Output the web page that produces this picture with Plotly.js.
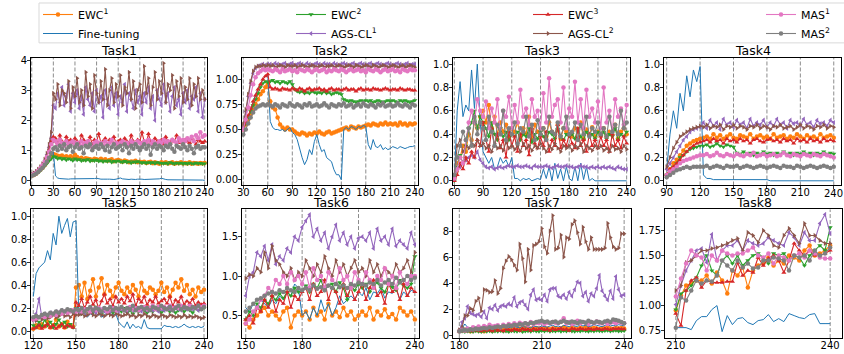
<!DOCTYPE html>
<html><head><meta charset="utf-8">
<script src="https://cdn.plot.ly/plotly-3.0.1.min.js"></script>
<style>html,body{margin:0;padding:0;background:#fff}#chart{width:844px;height:354px}</style>
</head><body><div id="chart"></div>
<script>
// ---------- series definitions ----------
const seriesNames = ['EWC<sup>1</sup>','Fine-tuning','EWC<sup>2</sup>','AGS-CL<sup>1</sup>','EWC<sup>3</sup>','AGS-CL<sup>2</sup>','MAS<sup>1</sup>','MAS<sup>2</sup>'];
const seriesColors = ['#ff7f0e','#1f77b4','#2ca02c','#9467bd','#d62728','#8c564b','#e377c2','#7f7f7f'];
const seriesSymbols = ['circle',null,'triangle-down','triangle-left','triangle-up','triangle-right','circle','circle'];
const seriesLegend = ['legend','legend','legend2','legend2','legend3','legend3','legend4','legend4'];
const taskTitles = ['Task1','Task2','Task3','Task4','Task5','Task6','Task7','Task8'];
const taskStart = [0,30,60,90,120,150,180,210];
const taskStep  = [3,3,3,3,2,2,1,1];
const taskEnd = 240;
const boundaryStep = 30;

// ---------- Task1 (x 0..240 step 3) ----------
const t1_EWC1 = [0.15,0.18,0.22,0.28,0.35,0.42,0.5,0.6,0.7,0.8,0.88,
0.85,0.82,0.8,0.83,0.78,0.8,0.76,0.8,0.75,0.85,
0.78,0.72,0.75,0.7,0.74,0.72,0.7,0.68,0.72,0.7,
0.68,0.72,0.66,0.7,0.65,0.68,0.7,0.64,0.66,0.68,
0.65,0.62,0.66,0.64,0.6,0.63,0.62,0.65,0.6,0.62,
0.6,0.62,0.58,0.6,0.62,0.57,0.6,0.58,0.55,0.6,
0.58,0.6,0.56,0.58,0.6,0.55,0.58,0.57,0.6,0.56,
0.58,0.56,0.6,0.55,0.58,0.57,0.55,0.58,0.56,0.58];
const t1_FT = [0.15,0.18,0.22,0.28,0.35,0.42,0.52,0.62,0.72,0.85,0.95,
0.15,0.08,0.06,0.05,0.05,0.05,0.04,0.05,0.05,0.06,
0.05,0.04,0.04,0.05,0.04,0.04,0.05,0.05,0.06,0.07,
0.05,0.04,0.04,0.03,0.04,0.04,0.03,0.03,0.04,0.06,
0.08,0.05,0.04,0.03,0.03,0.04,0.03,0.03,0.04,0.05,
0.04,0.03,0.03,0.04,0.03,0.03,0.04,0.04,0.05,0.07,
0.04,0.03,0.02,0.02,0.02,0.02,0.02,0.02,0.02,0.03,
0.02,0.02,0.01,0.01,0.01,0.01,0.01,0.01,0.01,0.0];
const t1_EWC2 = [0.15,0.18,0.22,0.27,0.33,0.4,0.48,0.56,0.65,0.72,0.8,
0.78,0.72,0.75,0.7,0.73,0.68,0.72,0.7,0.66,0.72,
0.68,0.7,0.65,0.68,0.66,0.7,0.64,0.67,0.65,0.68,
0.64,0.66,0.62,0.65,0.63,0.66,0.6,0.64,0.62,0.65,
0.62,0.6,0.64,0.6,0.62,0.58,0.62,0.6,0.63,0.6,
0.58,0.6,0.57,0.6,0.58,0.6,0.56,0.6,0.58,0.57,
0.56,0.58,0.55,0.6,0.57,0.55,0.58,0.56,0.58,0.55,
0.57,0.55,0.58,0.56,0.55,0.58,0.56,0.57,0.55,0.56];
const t1_AGS1 = [0.18,0.22,0.27,0.34,0.42,0.52,0.65,0.85,1.1,1.4,2.5,
2.4,2.9,2.6,3.1,2.5,2.8,3.2,2.3,2.9,2.6,
3.0,2.4,2.8,2.2,3.1,2.7,2.5,2.9,2.3,3.0,
2.6,2.8,2.1,3.0,2.7,2.4,3.1,2.5,2.9,2.2,
2.8,2.6,3.2,2.3,2.9,2.7,2.4,3.0,2.6,2.8,
2.2,2.9,2.6,3.1,2.4,2.8,2.0,3.0,2.7,2.5,
3.2,2.6,2.9,2.3,2.8,3.1,2.5,2.7,2.2,2.9,
2.6,3.0,2.4,2.8,2.7,3.1,2.3,2.9,2.1,2.7];
const t1_EWC3 = [0.18,0.22,0.27,0.33,0.4,0.5,0.62,0.8,1.0,1.3,1.45,
1.4,1.25,1.5,1.3,1.2,1.45,1.3,1.35,1.25,1.4,
1.3,1.2,1.5,1.35,1.25,1.3,1.45,1.2,1.35,1.3,
1.55,1.25,1.3,1.4,1.2,1.35,1.3,1.45,1.25,1.3,
1.35,1.2,1.4,1.3,1.25,1.5,1.3,1.2,1.35,1.3,
1.6,1.3,1.25,1.55,1.3,1.2,1.4,1.3,1.25,1.35,
1.2,1.45,1.3,1.25,1.35,1.3,1.5,1.25,1.3,1.2,
1.35,1.3,1.25,1.4,1.3,1.2,1.35,1.3,1.25,1.3];
const t1_AGS2 = [0.2,0.25,0.3,0.37,0.45,0.55,0.7,0.9,1.2,1.6,2.9,
2.7,3.2,2.5,3.0,2.9,2.6,3.3,2.4,3.1,2.8,
3.4,2.6,3.0,2.5,3.6,2.8,3.2,2.4,3.5,2.9,
2.6,3.3,2.7,3.7,2.5,3.0,3.4,2.6,3.2,2.8,
3.5,2.5,3.1,2.9,3.6,2.7,3.3,2.4,3.0,3.2,
2.6,3.8,2.9,3.4,2.5,3.1,3.6,2.7,3.3,2.9,
3.9,2.6,3.2,3.0,3.5,2.4,3.3,2.8,3.4,2.6,
3.1,2.7,3.4,2.5,3.2,2.8,3.4,2.7,3.0,2.7];
const t1_MAS1 = [0.17,0.2,0.25,0.32,0.4,0.5,0.62,0.78,0.95,1.2,1.35,
1.3,1.2,1.35,1.25,1.15,1.3,1.2,1.25,1.3,1.2,
1.25,1.15,1.3,1.2,1.25,1.3,1.2,1.1,1.25,1.3,
1.2,1.25,1.15,1.3,1.2,1.25,1.35,1.2,1.25,1.15,
1.25,1.3,1.2,1.25,1.15,1.3,1.25,1.2,1.3,1.25,
1.2,1.3,1.25,1.35,1.2,1.3,1.25,1.2,1.3,1.25,
1.35,1.25,1.3,1.2,1.35,1.3,1.25,1.4,1.3,1.35,
1.3,1.4,1.35,1.45,1.3,1.5,1.4,1.6,1.45,1.5];
const t1_MAS2 = [0.15,0.18,0.22,0.28,0.35,0.42,0.52,0.62,0.75,0.9,1.05,
1.1,1.0,1.15,1.05,1.2,1.0,1.1,1.15,0.95,1.1,
1.2,1.05,1.1,0.9,1.15,1.1,1.2,1.0,1.1,1.15,
1.05,1.2,1.1,1.0,1.15,0.95,1.1,1.2,1.05,1.1,
1.15,1.0,1.2,1.1,0.9,1.15,1.05,1.2,1.1,1.0,
1.1,1.2,1.05,1.15,0.85,1.1,1.2,1.05,1.15,1.1,
1.0,1.15,1.1,1.2,1.05,0.95,1.15,1.1,1.05,1.2,
1.1,1.0,1.15,1.05,0.9,1.1,1.15,1.05,1.1,1.1];

// ---------- Task2 (x 30..240 step 3) ----------
const t2_EWC1 = [0.5,0.55,0.6,0.65,0.7,0.75,0.8,0.85,0.88,0.92,0.95,
0.78,0.72,0.7,0.62,0.55,0.52,0.5,0.52,0.5,0.5,
0.48,0.46,0.45,0.47,0.46,0.44,0.46,0.45,0.47,0.46,
0.48,0.46,0.45,0.47,0.48,0.46,0.47,0.48,0.49,0.5,
0.51,0.52,0.5,0.53,0.52,0.51,0.53,0.52,0.53,0.54,
0.55,0.54,0.56,0.55,0.54,0.56,0.55,0.57,0.55,0.56,
0.55,0.56,0.54,0.57,0.55,0.56,0.54,0.56,0.55,0.56];
const t2_FT = [0.5,0.56,0.62,0.7,0.78,0.85,0.9,0.95,1.0,1.03,1.05,
0.58,0.52,0.5,0.5,0.49,0.5,0.48,0.5,0.52,0.47,
0.45,0.4,0.3,0.22,0.15,0.2,0.3,0.25,0.38,0.45,
0.35,0.28,0.3,0.22,0.2,0.18,0.1,0.05,0.05,0.0,
0.5,0.52,0.5,0.53,0.52,0.5,0.53,0.52,0.54,0.53,
0.35,0.3,0.4,0.33,0.32,0.35,0.3,0.32,0.3,0.31,
0.33,0.32,0.31,0.33,0.32,0.31,0.32,0.33,0.33,0.34];
const t2_EWC2 = [0.5,0.56,0.62,0.68,0.74,0.8,0.86,0.92,0.96,0.98,0.97,
0.98,0.99,0.97,0.98,0.96,0.98,0.97,0.96,0.98,0.95,
0.9,0.88,0.87,0.88,0.86,0.87,0.86,0.88,0.87,0.86,
0.87,0.86,0.88,0.86,0.87,0.85,0.86,0.87,0.86,0.85,
0.8,0.79,0.78,0.79,0.78,0.77,0.78,0.79,0.78,0.79,
0.78,0.79,0.77,0.78,0.79,0.78,0.77,0.78,0.79,0.78,
0.79,0.78,0.77,0.79,0.78,0.79,0.78,0.77,0.78,0.79];
const t2_AGS1 = [0.52,0.68,0.83,0.96,1.06,1.11,1.13,1.14,1.15,1.14,1.15,
1.15,1.14,1.16,1.15,1.14,1.15,1.16,1.14,1.15,1.16,
1.14,1.15,1.16,1.15,1.14,1.16,1.15,1.14,1.15,1.16,
1.15,1.14,1.16,1.15,1.15,1.14,1.16,1.15,1.14,1.15,
1.16,1.15,1.14,1.15,1.16,1.14,1.15,1.16,1.15,1.14,
1.15,1.16,1.14,1.15,1.16,1.15,1.14,1.15,1.16,1.15,
1.14,1.15,1.16,1.15,1.14,1.15,1.16,1.14,1.15,1.15];
const t2_EWC3 = [0.5,0.57,0.64,0.71,0.78,0.84,0.9,0.95,1.0,1.03,1.05,
0.92,0.9,0.91,0.9,0.89,0.91,0.9,0.9,0.89,0.91,
0.9,0.89,0.91,0.9,0.88,0.9,0.91,0.89,0.9,0.9,
0.91,0.89,0.9,0.88,0.9,0.91,0.89,0.9,0.9,0.89,
0.9,0.91,0.89,0.9,0.9,0.88,0.9,0.91,0.89,0.9,
0.9,0.89,0.91,0.9,0.9,0.89,0.9,0.91,0.9,0.89,
0.9,0.9,0.89,0.91,0.9,0.89,0.9,0.9,0.89,0.89];
const t2_AGS2 = [0.55,0.7,0.85,0.98,1.08,1.12,1.13,1.13,1.14,1.13,1.14,
1.13,1.14,1.12,1.13,1.14,1.13,1.12,1.14,1.13,1.13,
1.14,1.12,1.13,1.14,1.13,1.12,1.13,1.14,1.13,1.12,
1.13,1.14,1.12,1.13,1.13,1.14,1.12,1.13,1.14,1.13,
1.12,1.13,1.14,1.13,1.12,1.14,1.13,1.12,1.13,1.14,
1.13,1.12,1.14,1.13,1.12,1.13,1.14,1.13,1.12,1.13,
1.14,1.13,1.12,1.13,1.14,1.12,1.13,1.14,1.13,1.12];
const t2_MAS1 = [0.5,0.6,0.72,0.84,0.95,1.02,1.06,1.08,1.1,1.09,1.1,
1.09,1.08,1.1,1.09,1.07,1.1,1.08,1.09,1.1,1.08,
1.09,1.07,1.1,1.09,1.08,1.1,1.09,1.07,1.09,1.1,
1.08,1.09,1.1,1.07,1.09,1.08,1.1,1.09,1.08,1.1,
1.09,1.07,1.09,1.1,1.08,1.09,1.1,1.08,1.09,1.07,
1.1,1.09,1.08,1.1,1.09,1.07,1.09,1.1,1.08,1.09,
1.1,1.08,1.09,1.07,1.1,1.09,1.08,1.1,1.09,1.09];
const t2_MAS2 = [0.45,0.5,0.56,0.62,0.67,0.71,0.73,0.74,0.75,0.74,0.75,
0.74,0.73,0.75,0.74,0.72,0.75,0.74,0.73,0.76,0.74,
0.73,0.75,0.74,0.72,0.75,0.74,0.76,0.73,0.74,0.75,
0.73,0.74,0.76,0.74,0.72,0.75,0.74,0.73,0.75,0.74,
0.76,0.73,0.74,0.75,0.72,0.74,0.75,0.73,0.76,0.74,
0.73,0.75,0.74,0.72,0.75,0.74,0.76,0.73,0.74,0.75,
0.73,0.74,0.76,0.74,0.73,0.75,0.74,0.72,0.75,0.74];

// ---------- Task3 (x 60..240 step 3) ----------
const t3_EWC1 = [0.02,0.15,0.2,0.3,0.25,0.4,0.35,0.5,0.45,0.55,0.6,
0.5,0.65,0.45,0.55,0.4,0.5,0.42,0.48,0.38,0.45,
0.42,0.5,0.38,0.45,0.4,0.55,0.35,0.48,0.42,0.4,
0.45,0.38,0.5,0.42,0.4,0.48,0.36,0.45,0.42,0.4,
0.38,0.45,0.42,0.5,0.36,0.44,0.4,0.46,0.38,0.42,
0.4,0.45,0.38,0.42,0.4,0.48,0.36,0.42,0.45,0.4];
const t3_FT = [0.0,0.6,0.85,0.55,0.65,0.6,0.95,0.62,1.0,0.5,0.25,
0.2,0.15,0.2,0.1,0.12,0.2,0.15,0.18,0.12,0.2,
0.02,0.02,0.0,0.02,0.01,0.02,0.0,0.01,0.02,0.01,
0.1,0.02,0.12,0.0,0.15,0.02,0.1,0.0,0.12,0.02,
0.0,0.12,0.0,0.15,0.01,0.12,0.0,0.02,0.0,0.0,
0.0,0.0,0.0,0.0,0.0,0.0,0.0,0.0,0.0,0.0];
const t3_EWC2 = [0.0,0.12,0.22,0.15,0.3,0.45,0.5,0.6,0.45,0.55,0.5,
0.45,0.38,0.5,0.4,0.35,0.45,0.38,0.42,0.35,0.4,
0.38,0.42,0.35,0.4,0.38,0.45,0.33,0.4,0.36,0.42,
0.38,0.35,0.42,0.4,0.36,0.44,0.38,0.35,0.4,0.38,
0.4,0.36,0.45,0.38,0.35,0.42,0.38,0.4,0.36,0.42,
0.38,0.42,0.36,0.4,0.38,0.45,0.35,0.4,0.38,0.42];
const t3_AGS1 = [0.05,0.1,0.12,0.15,0.18,0.2,0.22,0.2,0.25,0.18,0.15,
0.12,0.11,0.12,0.1,0.11,0.12,0.11,0.12,0.13,0.12,
0.12,0.13,0.12,0.12,0.13,0.12,0.11,0.13,0.12,0.12,
0.12,0.13,0.12,0.11,0.12,0.13,0.12,0.12,0.13,0.12,
0.12,0.11,0.12,0.13,0.12,0.12,0.11,0.12,0.11,0.12,
0.11,0.12,0.11,0.12,0.11,0.1,0.12,0.11,0.1,0.1];
const t3_EWC3 = [0.0,0.05,0.15,0.1,0.2,0.15,0.25,0.2,0.35,0.3,0.5,
0.35,0.25,0.45,0.3,0.4,0.28,0.35,0.2,0.42,0.3,
0.38,0.25,0.4,0.3,0.35,0.22,0.45,0.32,0.28,0.38,
0.3,0.42,0.25,0.35,0.3,0.48,0.28,0.35,0.3,0.4,
0.32,0.28,0.45,0.3,0.35,0.25,0.4,0.3,0.35,0.28,
0.38,0.3,0.35,0.25,0.4,0.3,0.35,0.28,0.38,0.32];
const t3_AGS2 = [0.05,0.3,0.35,0.25,0.3,0.28,0.32,0.3,0.35,0.3,0.32,
0.28,0.3,0.25,0.32,0.28,0.3,0.26,0.33,0.28,0.3,
0.27,0.3,0.25,0.32,0.28,0.3,0.26,0.3,0.28,0.32,
0.28,0.25,0.3,0.27,0.32,0.28,0.25,0.3,0.28,0.3,
0.26,0.3,0.28,0.32,0.25,0.3,0.28,0.26,0.3,0.28,
0.3,0.26,0.28,0.25,0.3,0.27,0.28,0.25,0.3,0.27];
const t3_MAS1 = [0.02,0.1,0.2,0.15,0.35,0.5,0.6,0.5,0.7,0.6,0.55,
0.68,0.45,0.62,0.5,0.7,0.4,0.6,0.55,0.72,0.45,
0.65,0.5,0.78,0.55,0.62,0.48,0.7,0.55,0.6,0.45,
0.75,0.5,0.88,0.55,0.65,0.7,0.5,0.8,0.45,0.62,
0.55,0.85,0.5,0.7,0.45,0.78,0.55,0.62,0.5,0.68,
0.45,0.8,0.5,0.6,0.42,0.7,0.55,0.62,0.48,0.65];
const t3_MAS2 = [0.05,0.2,0.3,0.42,0.35,0.45,0.3,0.55,0.4,0.5,0.45,
0.35,0.55,0.42,0.3,0.48,0.4,0.6,0.35,0.45,0.4,
0.5,0.32,0.45,0.42,0.55,0.38,0.48,0.35,0.52,0.4,
0.45,0.35,0.55,0.42,0.4,0.5,0.38,0.45,0.55,0.4,
0.42,0.5,0.35,0.48,0.4,0.55,0.38,0.45,0.42,0.5,
0.4,0.45,0.38,0.55,0.42,0.48,0.4,0.6,0.45,0.5];

// ---------- Task4 (x 90..240 step 3) ----------
const t4_EWC1 = [0.05,0.1,0.15,0.18,0.22,0.26,0.3,0.32,0.34,0.35,0.36,
0.37,0.38,0.36,0.4,0.37,0.39,0.36,0.38,0.4,0.37,
0.36,0.39,0.38,0.37,0.4,0.36,0.38,0.39,0.37,0.38,
0.36,0.4,0.37,0.38,0.39,0.36,0.38,0.37,0.4,0.38,
0.36,0.39,0.37,0.38,0.36,0.4,0.37,0.38,0.39,0.37];
const t4_FT = [0.1,0.4,0.6,0.45,0.75,0.6,0.9,0.72,0.95,0.85,0.98,
0.05,0.02,0.02,0.01,0.01,0.01,0.01,0.01,0.01,0.01,
0.01,0.01,0.01,0.01,0.01,0.01,0.01,0.01,0.01,0.01,
0.0,0.0,0.0,0.0,0.0,0.0,0.0,0.0,0.0,0.0,
0.0,0.0,0.0,0.0,0.0,0.0,0.0,0.0,0.0,0.0];
const t4_EWC2 = [0.05,0.08,0.12,0.15,0.2,0.22,0.25,0.27,0.28,0.29,0.3,
0.3,0.31,0.29,0.3,0.32,0.3,0.29,0.31,0.3,0.29,
0.24,0.23,0.25,0.23,0.24,0.22,0.24,0.23,0.25,0.23,
0.24,0.22,0.24,0.23,0.25,0.23,0.24,0.22,0.24,0.23,
0.25,0.23,0.24,0.22,0.24,0.23,0.25,0.23,0.24,0.23];
const t4_AGS1 = [0.1,0.15,0.2,0.25,0.3,0.35,0.38,0.42,0.44,0.45,0.46,
0.5,0.45,0.52,0.47,0.5,0.44,0.53,0.48,0.5,0.46,
0.52,0.48,0.5,0.45,0.53,0.47,0.5,0.48,0.52,0.46,
0.5,0.47,0.53,0.48,0.5,0.45,0.52,0.49,0.5,0.47,
0.53,0.48,0.5,0.46,0.52,0.49,0.5,0.47,0.52,0.5];
const t4_EWC3 = [0.05,0.1,0.12,0.15,0.18,0.22,0.25,0.28,0.3,0.32,0.33,
0.34,0.35,0.33,0.36,0.34,0.35,0.32,0.36,0.34,0.35,
0.33,0.36,0.34,0.35,0.32,0.35,0.36,0.34,0.33,0.35,
0.36,0.34,0.35,0.33,0.36,0.34,0.35,0.32,0.36,0.34,
0.35,0.33,0.36,0.34,0.35,0.33,0.36,0.34,0.35,0.34];
const t4_AGS2 = [0.12,0.2,0.28,0.33,0.38,0.4,0.42,0.44,0.45,0.46,0.47,
0.46,0.48,0.45,0.47,0.46,0.48,0.44,0.47,0.46,0.48,
0.45,0.47,0.46,0.44,0.47,0.46,0.48,0.45,0.47,0.46,
0.44,0.47,0.46,0.48,0.45,0.46,0.47,0.44,0.46,0.48,
0.45,0.47,0.46,0.44,0.47,0.46,0.48,0.45,0.47,0.46];
const t4_MAS1 = [0.05,0.08,0.1,0.12,0.15,0.17,0.18,0.19,0.2,0.21,0.22,
0.22,0.23,0.21,0.22,0.24,0.22,0.21,0.23,0.22,0.21,
0.23,0.22,0.21,0.23,0.22,0.24,0.21,0.22,0.23,0.21,
0.22,0.23,0.21,0.22,0.24,0.22,0.21,0.23,0.22,0.21,
0.23,0.22,0.21,0.23,0.22,0.21,0.23,0.22,0.21,0.2];
const t4_MAS2 = [0.03,0.05,0.07,0.09,0.1,0.11,0.12,0.11,0.12,0.12,0.12,
0.12,0.13,0.11,0.12,0.13,0.12,0.11,0.13,0.12,0.12,
0.13,0.11,0.12,0.13,0.12,0.11,0.12,0.13,0.12,0.11,
0.12,0.13,0.12,0.11,0.13,0.12,0.12,0.11,0.13,0.12,
0.11,0.12,0.13,0.12,0.11,0.12,0.13,0.12,0.11,0.12];

// ---------- Task5 (x 120..240 step 2) ----------
const t5_EWC1 = [0.02,0.05,0.03,0.06,0.04,0.08,0.03,0.05,0.1,0.04,0.06,0.03,0.08,0.05,0.04,0.38,
0.4,0.3,0.42,0.28,0.35,0.45,0.3,0.38,0.46,0.32,0.4,0.35,0.3,0.38,0.42,
0.35,0.32,0.38,0.34,0.4,0.36,0.3,0.42,0.35,0.33,0.38,0.36,0.32,0.35,0.42,
0.34,0.38,0.3,0.36,0.42,0.38,0.45,0.35,0.4,0.32,0.36,0.3,0.38,0.34,0.36];
const t5_FT = [0.3,0.5,0.55,0.58,0.6,0.7,0.62,0.85,0.75,1.0,0.85,0.92,0.98,0.82,0.95,0.96,
0.15,0.14,0.16,0.12,0.15,0.14,0.13,0.15,0.12,0.14,0.16,0.15,0.14,0.15,0.08,
0.05,0.03,0.08,0.02,0.06,0.03,0.04,0.02,0.1,0.03,0.02,0.02,0.02,0.02,0.02,
0.05,0.04,0.04,0.03,0.04,0.03,0.04,0.06,0.04,0.03,0.04,0.03,0.04,0.03,0.04];
const t5_EWC2 = [0.05,0.03,0.08,0.04,0.1,0.05,0.08,0.03,0.06,0.1,0.05,0.08,0.04,0.06,0.03,0.2,
0.18,0.15,0.2,0.17,0.19,0.16,0.21,0.18,0.15,0.19,0.17,0.2,0.16,0.18,0.19,
0.17,0.2,0.16,0.18,0.15,0.19,0.17,0.2,0.18,0.16,0.19,0.17,0.21,0.18,0.16,
0.18,0.2,0.17,0.19,0.16,0.18,0.2,0.17,0.19,0.18,0.16,0.2,0.18,0.19,0.2];
const t5_AGS1 = [0.1,0.15,0.28,0.12,0.15,0.14,0.16,0.15,0.17,0.16,0.18,0.17,0.16,0.18,0.17,0.18,
0.17,0.18,0.16,0.19,0.17,0.18,0.16,0.18,0.19,0.17,0.18,0.17,0.19,0.18,0.17,
0.19,0.18,0.17,0.19,0.18,0.2,0.18,0.17,0.19,0.18,0.2,0.18,0.19,0.17,0.19,
0.18,0.2,0.19,0.18,0.2,0.19,0.18,0.2,0.19,0.2,0.19,0.2,0.18,0.2,0.21];
const t5_EWC3 = [0.02,0.03,0.05,0.02,0.04,0.06,0.03,0.05,0.02,0.04,0.06,0.03,0.05,0.04,0.03,0.25,
0.22,0.28,0.2,0.25,0.3,0.23,0.27,0.2,0.26,0.32,0.24,0.28,0.22,0.3,0.25,
0.28,0.24,0.3,0.26,0.32,0.22,0.28,0.25,0.3,0.23,0.27,0.25,0.3,0.24,0.26,
0.28,0.24,0.3,0.22,0.27,0.25,0.3,0.23,0.26,0.24,0.28,0.22,0.25,0.23,0.24];
const t5_AGS2 = [0.1,0.09,0.12,0.1,0.13,0.11,0.12,0.14,0.12,0.13,0.15,0.13,0.14,0.12,0.15,0.14,
0.14,0.15,0.13,0.14,0.16,0.14,0.13,0.15,0.14,0.13,0.15,0.14,0.13,0.15,0.14,
0.13,0.14,0.15,0.13,0.14,0.12,0.14,0.13,0.15,0.13,0.12,0.14,0.13,0.12,0.14,
0.13,0.12,0.14,0.13,0.12,0.13,0.12,0.14,0.12,0.13,0.12,0.13,0.12,0.11,0.12];
const t5_MAS1 = [0.1,0.11,0.12,0.13,0.12,0.14,0.13,0.15,0.14,0.16,0.15,0.17,0.16,0.17,0.18,0.17,
0.18,0.17,0.19,0.18,0.17,0.19,0.18,0.2,0.18,0.19,0.17,0.19,0.2,0.18,0.19,
0.2,0.18,0.19,0.21,0.19,0.2,0.18,0.2,0.21,0.19,0.2,0.22,0.19,0.21,0.2,
0.21,0.19,0.22,0.2,0.21,0.2,0.22,0.21,0.2,0.22,0.21,0.2,0.22,0.21,0.22];
const t5_MAS2 = [0.12,0.13,0.12,0.14,0.15,0.14,0.16,0.15,0.17,0.16,0.18,0.17,0.19,0.18,0.17,0.19,
0.18,0.2,0.17,0.19,0.21,0.18,0.2,0.19,0.17,0.2,0.19,0.21,0.18,0.2,0.19,
0.21,0.18,0.2,0.19,0.22,0.18,0.2,0.21,0.19,0.2,0.18,0.21,0.2,0.19,0.22,
0.2,0.19,0.21,0.18,0.2,0.22,0.19,0.21,0.2,0.19,0.21,0.2,0.22,0.19,0.21];

// ---------- Task6 (x 150..240 step 2) ----------
const t6_EWC1 = [0.4,0.35,0.45,0.5,0.55,0.6,0.5,0.55,0.5,0.45,0.55,0.6,0.35,0.5,0.55,0.5,
0.55,0.45,0.6,0.5,0.55,0.45,0.65,0.5,0.55,0.48,0.6,0.5,0.55,0.45,0.5,
0.55,0.5,0.6,0.45,0.55,0.5,0.58,0.48,0.52,0.45,0.6,0.55,0.5,0.55,0.45];
const t6_FT = [0.6,0.55,0.65,0.6,0.7,0.65,0.6,0.7,0.65,0.75,0.7,0.8,0.75,0.9,0.85,0.5,
0.55,0.45,0.6,0.5,0.7,0.55,0.65,0.5,0.6,0.75,0.65,0.7,0.75,0.7,0.8,
0.75,0.85,0.7,0.8,0.78,0.85,0.72,0.8,0.78,0.85,0.7,0.8,0.75,0.82,0.8];
const t6_EWC2 = [0.45,0.55,0.5,0.65,0.6,0.7,0.65,0.75,0.7,0.78,0.72,0.8,0.75,0.85,0.8,0.82,
0.88,0.8,0.9,0.85,0.95,0.82,0.88,0.9,0.8,0.92,0.85,0.7,0.88,0.82,0.9,
0.85,0.9,0.8,0.88,0.92,0.85,0.8,0.9,0.86,0.82,0.95,0.88,0.85,0.9,1.25];
const t6_AGS1 = [0.75,1.0,1.05,1.3,1.25,1.38,1.2,1.4,1.15,1.25,1.2,1.35,1.3,1.5,1.45,1.62,
1.7,1.78,1.5,1.6,1.45,1.55,1.35,1.5,1.65,1.45,1.55,1.4,1.5,1.35,1.48,
1.5,1.45,1.55,1.35,1.6,1.45,1.5,1.4,1.6,1.38,1.45,1.4,1.35,1.55,1.4];
const t6_EWC3 = [0.45,0.5,0.4,0.6,0.55,0.7,0.6,0.75,0.55,0.7,0.65,0.8,0.6,0.75,0.7,0.8,
0.85,0.7,0.9,0.75,0.8,0.95,0.7,0.85,0.8,0.65,0.9,0.75,0.85,0.7,0.8,
0.9,0.7,0.85,0.95,0.75,0.8,0.65,0.9,0.8,0.85,0.7,0.9,0.75,0.85,0.8];
const t6_AGS2 = [0.97,1.02,1.0,1.1,1.05,1.3,1.1,1.38,1.2,1.15,1.05,1.0,1.1,0.95,1.05,1.0,
1.2,1.1,1.0,1.15,1.05,1.25,1.1,1.0,1.2,1.05,1.15,1.0,1.1,1.2,1.05,
1.1,1.0,1.2,1.05,1.15,1.0,1.1,1.05,1.0,1.15,1.05,1.1,1.2,1.05,1.3];
const t6_MAS1 = [0.4,0.45,0.55,0.6,0.7,0.75,0.85,0.8,0.95,0.9,1.0,0.9,1.05,0.95,1.0,0.9,
1.05,0.85,1.1,0.95,1.0,0.85,1.05,0.95,0.9,1.1,0.95,1.0,0.85,1.05,0.95,
0.9,1.05,0.95,0.85,1.0,0.95,1.1,0.9,1.0,0.85,1.05,0.95,0.9,1.0,1.0];
const t6_MAS2 = [0.55,0.6,0.65,0.7,0.72,0.75,0.78,0.8,0.78,0.82,0.8,0.85,0.82,0.8,0.85,0.82,
0.85,0.82,0.88,0.84,0.86,0.82,0.88,0.85,0.9,0.86,0.88,0.85,0.9,0.88,0.92,
0.9,0.88,0.92,0.9,0.95,0.88,0.92,0.95,0.9,0.98,0.92,0.95,1.0,0.95,0.98];

// ---------- Task7 (x 180..240 step 1) ----------
const t7_EWC1 = [0.3,0.35,0.4,0.35,0.3,0.4,0.45,0.35,0.4,0.3,
0.45,0.4,0.35,0.45,0.4,0.5,0.4,0.45,0.35,0.5,
0.45,0.4,0.5,0.45,0.55,0.4,0.5,0.45,0.55,0.5,
0.45,0.55,0.5,0.45,0.5,0.55,0.45,0.5,0.6,0.5,
0.45,0.55,0.5,0.45,0.55,0.5,0.6,0.45,0.5,0.55,
0.5,0.45,0.55,0.5,0.6,0.5,0.45,0.55,0.5,0.55,0.5];
const t7_FT = [0.3,0.5,0.85,0.6,0.5,0.45,0.55,0.5,0.45,0.55,
0.5,0.6,0.55,0.5,0.6,0.55,0.65,0.5,0.6,0.55,
0.65,0.6,0.55,0.7,0.6,0.65,0.55,0.7,0.65,0.6,
0.7,0.65,0.6,0.7,0.75,0.65,0.7,0.6,0.75,0.7,
0.65,0.75,0.7,0.65,0.8,0.7,0.75,0.65,0.7,0.8,
0.75,0.7,0.65,0.75,0.8,0.7,0.75,0.7,0.8,0.75,0.7];
const t7_EWC2 = [0.25,0.3,0.25,0.3,0.28,0.25,0.32,0.28,0.25,0.3,
0.28,0.32,0.25,0.3,0.28,0.33,0.27,0.3,0.25,0.32,
0.3,0.28,0.33,0.25,0.3,0.32,0.28,0.35,0.3,0.28,
0.33,0.3,0.35,0.28,0.32,0.3,0.35,0.28,0.33,0.3,
0.35,0.3,0.28,0.33,0.3,0.35,0.32,0.28,0.33,0.3,
0.35,0.32,0.3,0.33,0.35,0.3,0.33,0.35,0.3,0.32,0.33];
const t7_AGS1 = [0.3,1.0,1.3,2.2,1.7,1.6,1.5,1.6,1.4,1.8,
1.3,2.1,2.0,2.3,1.9,2.2,2.3,2.2,2.4,2.3,
2.9,2.2,2.5,2.6,2.3,2.0,3.1,3.5,2.7,2.8,
2.7,3.1,2.6,3.5,3.6,3.6,3.0,2.9,3.1,2.8,
3.3,3.0,3.5,4.1,4.0,3.0,3.3,2.6,3.2,3.0,
3.6,4.6,3.4,3.0,2.7,3.4,2.8,4.5,3.5,3.0,3.1];
const t7_EWC3 = [0.3,0.35,0.3,0.4,0.35,0.3,0.4,0.35,0.3,0.4,
0.35,0.4,0.3,0.45,0.35,0.4,0.3,0.45,0.4,0.35,
0.45,0.4,0.35,0.5,0.4,0.45,0.35,0.5,0.4,0.45,
0.5,0.4,0.45,0.35,0.5,0.4,0.45,0.5,0.4,0.45,
0.35,0.5,0.45,0.4,0.5,0.45,0.4,0.5,0.45,0.4,
0.5,0.45,0.4,0.5,0.45,0.4,0.5,0.45,0.5,0.45,0.45];
const t7_AGS2 = [0.4,0.6,1.5,1.5,2.05,1.9,2.6,2.85,1.85,3.5,
3.45,3.3,3.35,4.2,3.2,3.6,5.15,5.7,6.05,5.8,
5.4,5.0,7.0,5.9,4.1,6.6,5.0,6.9,7.0,7.2,
8.2,6.8,6.3,8.0,9.2,6.6,6.7,7.7,6.0,7.5,
7.4,8.5,8.8,7.9,7.0,8.3,7.2,6.6,7.5,6.6,
6.6,6.6,6.6,6.7,8.6,7.5,6.8,6.6,6.7,7.8,7.8];
const t7_MAS1 = [0.3,0.4,0.35,0.5,0.45,0.6,0.5,0.65,0.55,0.7,
0.6,0.8,0.65,0.7,0.75,0.6,0.8,0.7,0.85,0.75,
0.9,0.8,0.95,0.85,0.9,0.8,1.0,0.85,0.95,0.9,
1.0,0.85,0.95,0.9,1.0,0.95,0.9,1.05,1.3,0.9,
1.0,0.85,0.95,1.1,0.9,1.0,0.95,0.85,1.0,0.9,
1.05,0.95,0.9,1.0,0.85,0.95,1.0,0.9,1.05,0.95,0.9];
const t7_MAS2 = [0.3,0.35,0.4,0.35,0.45,0.4,0.5,0.45,0.5,0.55,
0.5,0.6,0.55,0.6,0.65,0.6,0.7,0.65,0.75,0.7,
0.8,0.75,0.85,0.8,0.9,0.85,0.95,0.9,1.0,1.05,
1.1,1.0,1.05,0.95,1.0,1.05,0.95,1.0,1.1,1.0,
0.95,1.05,1.0,0.9,1.05,1.0,0.95,1.1,1.0,0.95,
1.05,1.0,0.95,1.05,1.1,1.0,1.2,1.15,1.1,1.0,0.9];

// ---------- Task8 (x 210..240 step 1) ----------
const t8_EWC1 = [0.95,1.1,1.2,1.22,1.25,1.25,1.3,1.22,1.33,1.25,1.12,1.35,1.3,1.38,1.18,1.35,1.4,1.42,1.48,1.4,1.45,1.42,1.5,1.48,1.45,1.55,1.6,1.5,1.52,1.55,1.6];
const t8_FT = [0.78,0.78,0.78,0.76,0.85,0.89,0.89,0.96,1.0,0.74,0.9,0.81,0.87,0.88,0.83,0.81,0.85,0.86,0.91,0.84,0.87,0.84,0.92,0.9,0.88,0.87,0.91,0.92,0.82,0.82,0.82];
const t8_EWC2 = [0.96,1.12,1.15,1.2,1.28,1.4,1.5,1.35,1.3,1.45,1.5,1.42,1.5,1.4,1.45,1.5,1.52,1.48,1.42,1.52,1.5,1.52,1.45,1.5,1.48,1.4,1.5,1.55,1.6,1.55,1.78];
const t8_AGS1 = [1.01,1.2,1.35,1.45,1.55,1.57,1.43,1.71,1.45,1.55,1.6,1.6,1.65,1.55,1.65,1.62,1.6,1.62,1.68,1.65,1.62,1.6,1.73,1.68,1.6,1.73,1.65,1.65,1.82,1.91,1.72];
const t8_EWC3 = [0.92,0.8,1.15,1.25,1.28,1.18,1.25,1.23,1.23,1.23,1.24,1.24,1.43,1.3,1.35,1.33,1.48,1.4,1.47,1.5,1.45,1.33,1.45,1.62,1.55,1.5,1.55,1.5,1.5,1.52,1.55];
const t8_AGS2 = [1.15,1.2,1.43,1.45,1.5,1.55,1.55,1.57,1.58,1.6,1.62,1.65,1.67,1.55,1.73,1.7,1.63,1.75,1.7,1.6,1.58,1.7,1.77,1.7,1.62,1.82,1.7,1.7,1.65,1.62,1.62];
const t8_MAS1 = [1.09,1.27,1.42,1.55,1.5,1.48,1.35,1.5,1.45,1.55,1.52,1.5,1.52,1.52,1.55,1.58,1.5,1.48,1.52,1.42,1.5,1.48,1.45,1.5,1.52,1.48,1.55,1.52,1.48,1.47,1.47];
const t8_MAS2 = [0.78,1.08,1.05,1.15,1.25,1.22,1.25,1.24,1.3,1.45,1.4,1.35,1.45,1.38,1.42,1.37,1.38,1.45,1.45,1.48,1.47,1.45,1.35,1.5,1.48,1.5,1.45,1.55,1.5,1.52,1.58];

// ---------- axis ticks ----------
const xTicks = [[0,30,60,90,120,150,180,210,240],[30,60,90,120,150,180,210,240],[60,90,120,150,180,210,240],[90,120,150,180,210,240],[120,150,180,210,240],[150,180,210,240],[180,210,240],[210,240]];
const yTicks = [[0,1,2,3,4],[0,0.25,0.5,0.75,1.0],[0,0.2,0.4,0.6,0.8,1.0],[0,0.2,0.4,0.6,0.8,1.0],[0,0.2,0.4,0.6,0.8,1.0],[0.5,1.0,1.5],[0,2,4,6,8],[0.75,1.0,1.25,1.5,1.75]];
const yFormats = ['d','.2f','.1f','.1f','.1f','.1f','d','.2f'];

const taskData = [
 [t1_EWC1,t1_FT,t1_EWC2,t1_AGS1,t1_EWC3,t1_AGS2,t1_MAS1,t1_MAS2],
 [t2_EWC1,t2_FT,t2_EWC2,t2_AGS1,t2_EWC3,t2_AGS2,t2_MAS1,t2_MAS2],
 [t3_EWC1,t3_FT,t3_EWC2,t3_AGS1,t3_EWC3,t3_AGS2,t3_MAS1,t3_MAS2],
 [t4_EWC1,t4_FT,t4_EWC2,t4_AGS1,t4_EWC3,t4_AGS2,t4_MAS1,t4_MAS2],
 [t5_EWC1,t5_FT,t5_EWC2,t5_AGS1,t5_EWC3,t5_AGS2,t5_MAS1,t5_MAS2],
 [t6_EWC1,t6_FT,t6_EWC2,t6_AGS1,t6_EWC3,t6_AGS2,t6_MAS1,t6_MAS2],
 [t7_EWC1,t7_FT,t7_EWC2,t7_AGS1,t7_EWC3,t7_AGS2,t7_MAS1,t7_MAS2],
 [t8_EWC1,t8_FT,t8_EWC2,t8_AGS1,t8_EWC3,t8_AGS2,t8_MAS1,t8_MAS2]
];

// ---------- layout (pixel boxes) ----------
const W = 844, H = 354;
const boxes = [[31,207,57,185],[242,418,57,185],[453,630,57,185],[664,841,57,185],
               [31,207,209,338],[242,419,209,338],[453,631,209,338],[665,842,209,338]];
const titleY = [50,50,50,50,202,202,202,202];
const xRanges = [[-1,243.2],[28.4,243.9],[58.6,243.5],[87.6,246.5],[118.4,242.1],[148,242.2],[177.7,242.5],[207.9,242.3]];
const yRanges = [[-0.17,4.08],[-0.057,1.213],[-0.04,1.054],[-0.04,1.054],[-0.061,1.059],[0.215,1.845],[-0.23,9.67],[0.676,1.96]];
const FONT = 'DejaVu Sans';

const traces = [];
const layout = {
  width: W, height: H, margin: {l:0, r:0, t:0, b:0},
  paper_bgcolor: '#fff', plot_bgcolor: '#fff',
  font: {family: FONT, size: 10, color: '#000'},
  showlegend: true, shapes: [], annotations: []
};
const legendX = [38, 291, 528, 761];
['legend','legend2','legend3','legend4'].forEach((lg, j) => {
  layout[lg] = {x: legendX[j]/W, xanchor: 'left', y: 1 + 1/H, yanchor: 'top', orientation: 'v',
    bgcolor: 'rgba(0,0,0,0)', borderwidth: 0, itemwidth: 30, font: {family: FONT, size: 11, color: '#000'},
    tracegroupgap: 0, traceorder: 'normal'};
});
layout.shapes.push({type:'rect', xref:'paper', yref:'paper', x0:39/W, x1:1.02, y0:1-42/H, y1:1-2/H,
  line:{color:'#d9d9d9', width:1}, fillcolor:'rgba(255,255,255,0)', layer:'below'});

taskData.forEach((series, k) => {
  const ax = k === 0 ? '' : String(k+1);
  const b = boxes[k];
  // Task4's last tick label is hidden by Plotly at the right page edge; it is drawn as an
  // annotation placed through the same axis (x4 = last tick value) instead.
  const lastTickAsAnnotation = (k === 3);
  const xt = xTicks[k];
  layout['xaxis'+ax] = {domain:[b[0]/W, b[1]/W], range:xRanges[k], anchor:'y'+ax,
    tickvals:xt, ticktext: xt.map((v, i) => (lastTickAsAnnotation && i === xt.length-1) ? '' : String(v)),
    ticks:'outside', ticklen:3, tickwidth:0.8, tickcolor:'#000', ticklabelstandoff:-5,
    ticklabeloverflow:'allow',
    showline:true, mirror:true, linecolor:'#000', linewidth:1, showgrid:false, zeroline:false,
    tickfont:{family:FONT, size:10, color:'#000'}, fixedrange:true};
  if (lastTickAsAnnotation) {
    layout.annotations.push({text:String(xt[xt.length-1]), xref:'x'+ax, yref:'y'+ax+' domain',
      x:xt[xt.length-1], y:0, xanchor:'center', yanchor:'top', yshift:-1, showarrow:false,
      font:{family:FONT, size:10, color:'#000'}});
  }
  layout['yaxis'+ax] = {domain:[1-b[3]/H, 1-b[2]/H], range:yRanges[k], anchor:'x'+ax,
    tickvals:yTicks[k], tickformat:yFormats[k], ticks:'outside', ticklen:3, tickwidth:0.8, tickcolor:'#000', ticklabelstandoff:-2,
    ticklabeloverflow:'allow',
    showline:true, mirror:true, linecolor:'#000', linewidth:1, showgrid:false, zeroline:false,
    tickfont:{family:FONT, size:10, color:'#000'}, fixedrange:true};
  // task boundary lines
  for (let xb = taskStart[k]; xb <= taskEnd; xb += boundaryStep) {
    layout.shapes.push({type:'line', xref:'x'+ax, yref:'y'+ax+' domain', x0:xb, x1:xb, y0:0, y1:1,
      line:{color:'#8c8c8c', width:1, dash:'4px,2px'}, layer:'below'});
  }
  layout.annotations.push({text:taskTitles[k], xref:'paper', yref:'paper', x:(b[0]+b[1])/2/W,
    y:1-titleY[k]/H, xanchor:'center', yanchor:'middle', showarrow:false,
    font:{family:FONT, size:12.5, color:'#000'}});
  series.forEach((ys, s) => {
    const xs = ys.map((_, i) => taskStart[k] + i*taskStep[k]);
    const tr = {x:xs, y:ys, xaxis:'x'+ax, yaxis:'y'+ax, type:'scatter',
      name:seriesNames[s], legendgroup:'s'+s, showlegend:k===0, legend:seriesLegend[s],
      line:{color:seriesColors[s], width: s===1 ? 1 : 1.1}, hoverinfo:'skip'};
    if (seriesSymbols[s]) {
      tr.mode = 'lines+markers';
      tr.marker = {symbol:seriesSymbols[s], size:4.5, color:seriesColors[s]};
    } else {
      tr.mode = 'lines';
    }
    traces.push(tr);
  });
});

Plotly.newPlot('chart', traces, layout, {displayModeBar:false, staticPlot:true});
</script>
</body></html>
